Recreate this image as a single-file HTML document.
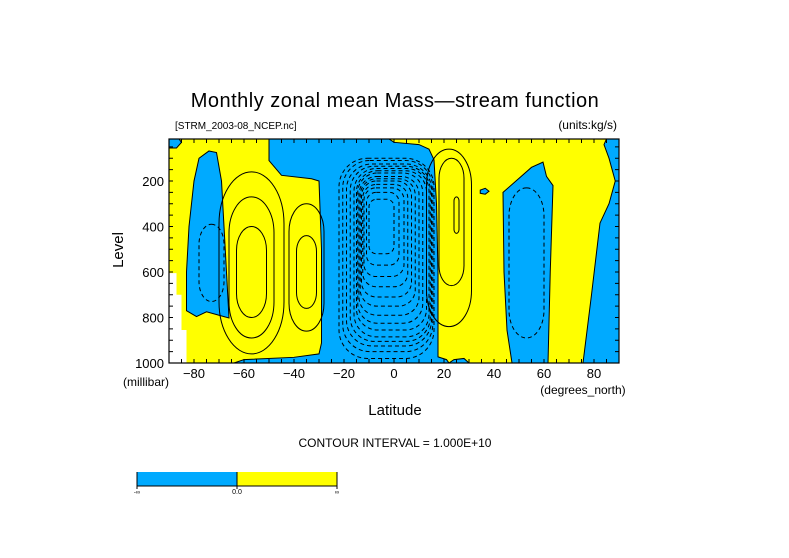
<!DOCTYPE html>
<html><head><meta charset="utf-8"><style>
body{margin:0;background:#fff;}
svg{display:block;font-family:"Liberation Sans",sans-serif;}
</style></head><body>
<svg id="c" width="789" height="558" viewBox="0 0 789 558">
<rect width="789" height="558" fill="#fff"/>
<text x="395" y="107" font-size="20" text-anchor="middle" letter-spacing="0.5">Monthly zonal mean Mass—stream function</text>
<text x="175" y="129" font-size="10">[STRM_2003-08_NCEP.nc]</text>
<text x="617" y="129" font-size="12" text-anchor="end">(units:kg/s)</text>
<text x="0" y="0" font-size="15" text-anchor="middle" transform="translate(123,250) rotate(-90)">Level</text>
<text x="146" y="386" font-size="12" text-anchor="middle">(millibar)</text>
<text x="583" y="394" font-size="12" text-anchor="middle">(degrees_north)</text>
<text x="395" y="415" font-size="15" text-anchor="middle">Latitude</text>
<text x="395" y="447" font-size="12" text-anchor="middle">CONTOUR INTERVAL = 1.000E+10</text>
<g>
<rect x="137" y="472" width="100" height="14" fill="#00aaff"/>
<rect x="237" y="472" width="100" height="14" fill="#ffff00"/>
<path d="M137 472V489M237 472V489M337 472V489M137 486H337" stroke="#000" stroke-width="1" fill="none"/>
<text x="137" y="494" font-size="6" text-anchor="middle">-∞</text>
<text x="237" y="494" font-size="7" text-anchor="middle">0.0</text>
<text x="337" y="494" font-size="6" text-anchor="middle">∞</text>
</g>
<g id="plot"></g>
</svg>
<script>
const xTicks=[-80,-60,-40,-20,0,20,40,60,80];
const yTicks=[200,400,600,800,1000];
const negRegions=[
 [[-90,15],[-86,15],[-85,30],[-87,55],[-90,55]],
 [[-74,68],[-71,75],[-69,200],[-68,400],[-66,802],[-70,790],[-75,775],[-79,796],[-83,770],[-83,600],[-82,400],[-80,200],[-78,100]],
 [[-50,15],[-2,15],[0,30],[10,40],[14,60],[16,107],[17,300],[17.6,600],[17.6,973],[21,985],[22,1000],[-64,1000],[-60,985],[-40,975],[-30,960],[-29,912],[-29,500],[-30,200],[-33,190],[-45,175],[-50,110]],
 [[34.5,240],[36.5,232],[38,245],[36.5,258],[34.5,254]],
 [[43.6,250],[55,140],[59.6,117],[61,180],[63.6,220],[62.5,600],[61.6,1000],[47.2,1000],[45.2,856],[44,600]],
 [[85,15],[90,15],[90,1000],[75.6,1000],[79,700],[82.4,385],[86,300],[88.5,200],[86,100],[84,40]],
 [[24,985],[28,980],[30,1000],[22,1000]]
];
const missing=[[-90,605],[-87,605],[-87,700],[-85,700],[-85,855],[-83,855],[-83,1000],[-90,1000]];
const posContours=[[-57,560,13,400],[-57,580,9,310],[-57,600,6,200],[-35,580,7,280],[-35,600,4,160],[22,450,9,390],[23,380,5,280],[25,350,1,80]];
const sideNegContours=[[-73,560,5,170],[53,560,7,330]];
const centralNegContours=[
 [-3,540,19,440],[-2.5,530,18,420],[-2,525,17,400],[-1.5,520,16,385],[-1,515,15,370],[-1,505,14,350],[-1.5,495,13,330],[-2,485,12,305],[-2.5,470,11,280],[-3,455,10,255],[-3.5,440,9,225],[-4,425,8,195],[-4.5,410,6.5,160],[-5,400,5,120]];
const X=lat=>169+(lat+90)*2.5, Y=p=>135.5+p*0.2275;
const ns="http://www.w3.org/2000/svg", plot=document.getElementById('plot');
function mk(t,a){const e=document.createElementNS(ns,t);for(const k in a)e.setAttribute(k,a[k]);plot.appendChild(e);return e;}
const clip=document.createElementNS(ns,'clipPath');clip.id='pc';
const cr=document.createElementNS(ns,'rect');cr.setAttribute('x',169);cr.setAttribute('y',139);cr.setAttribute('width',450);cr.setAttribute('height',224);clip.appendChild(cr);plot.appendChild(clip);
let bg=mk('rect',{x:169,y:139,width:450,height:224,fill:'#ffff00'});


const pts=r=>r.map(v=>X(v[0])+','+Y(v[1])).join(' ');
negRegions.forEach((r,i)=>{const e=mk('polygon',{points:pts(r),fill:'#00aaff',stroke:'#000','stroke-width':1,'clip-path':'url(#pc)'});

});
let ms=mk('polygon',{points:pts(missing),fill:'#fff','clip-path':'url(#pc)'});


function oval(c,dash,name){const rx=c[2]*2.5,ry=c[3]*0.2275;
 const e=mk('rect',{x:X(c[0])-rx,y:Y(c[1])-ry,width:2*rx,height:2*ry,rx:rx,ry:Math.min(ry,rx*1.6),fill:'none',stroke:'#000','stroke-width':1,'clip-path':'url(#pc)'});
 if(dash)e.setAttribute('stroke-dasharray','4,3');
 
 }
function box(c,name){const rx=c[2]*2.5,ry=c[3]*0.2275,r=Math.min(rx,ry)*0.6;
 const e=mk('rect',{x:X(c[0])-rx,y:Y(c[1])-ry,width:2*rx,height:2*ry,rx:r,ry:r,fill:'none',stroke:'#000','stroke-width':1,'stroke-dasharray':'4,3','clip-path':'url(#pc)'});
 
 }
posContours.forEach((c,i)=>oval(c,false,'positive-contour-'+i));
sideNegContours.forEach((c,i)=>oval(c,true,'negative-contour-side-'+i));
centralNegContours.forEach((c,i)=>box(c,'negative-contour-central-'+i));
let fr=mk('rect',{x:169,y:139,width:450,height:224,fill:'none',stroke:'#000','stroke-width':1.2});


let d='';
for(let l=-90;l<=90;l+=5){d+=`M${X(l)} 139v4M${X(l)} 363v-4`;}
for(let p=50;p<=1000;p+=50){d+=`M169 ${Y(p)}h4M619 ${Y(p)}h-4`;}
mk('path',{d:d,stroke:'#000','stroke-width':1,fill:'none'});
xTicks.forEach(v=>{const t=mk('text',{x:X(v),y:378,'font-size':13,'text-anchor':'middle'});t.textContent=(v<0?'−':'')+Math.abs(v);
 
 });
yTicks.forEach(v=>{const t=mk('text',{x:164,y:Y(v)+5,'font-size':13,'text-anchor':'end'});t.textContent=v;
 
 });
</script>
</body></html>
